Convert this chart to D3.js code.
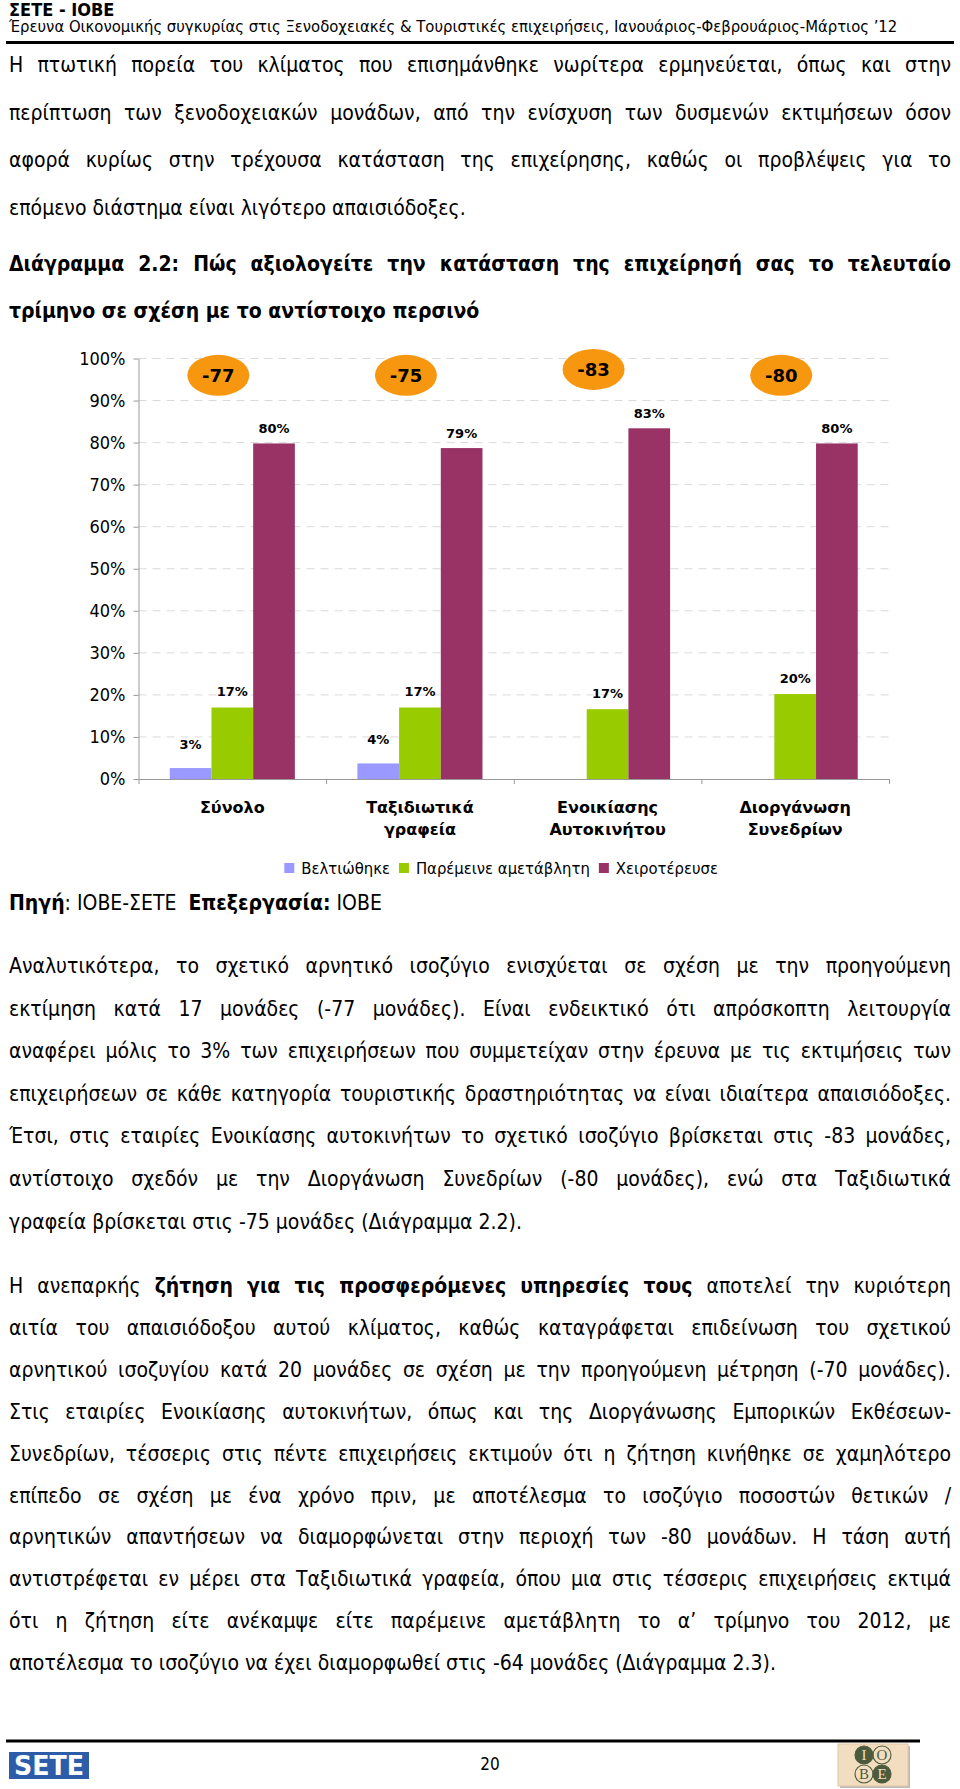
<!DOCTYPE html>
<html>
<head>
<meta charset="utf-8">
<script src="https://cdn.jsdelivr.net/npm/d3@7"></script>
<style>
  body { margin: 0; background: #fff; }
  svg { display: block; }
  text { font-family: "DejaVu Sans Condensed", "DejaVu Sans", sans-serif; fill: #000; }
</style>
</head>
<body>
<svg id="page"></svg>
<script>
// ---- chart data ----
const categories = [["Σύνολο"], ["Ταξιδιωτικά", "γραφεία"], ["Ενοικίασης", "Αυτοκινήτου"], ["Διοργάνωση", "Συνεδρίων"]];
const seriesNames = ["Βελτιώθηκε", "Παρέμεινε αμετάβλητη", "Χειροτέρευσε"];
const improved = [2.6, 3.7, 0, 0];
const unchanged = [17, 17, 16.6, 20.2];
const worse = [79.8, 78.7, 83.4, 79.8];
const balance = [-77, -75, -83, -80];
const yTicks = [0, 10, 20, 30, 40, 50, 60, 70, 80, 90, 100];

// ---- page text (bold runs between *) ----
const headerTitle = "ΣΕΤΕ - ΙΟΒΕ";
const headerSub = "Έρευνα Οικονομικής συγκυρίας στις Ξενοδοχειακές & Τουριστικές επιχειρήσεις, Ιανουάριος-Φεβρουάριος-Μάρτιος ’12";
const para1 = [
  "Η πτωτική πορεία του κλίματος που επισημάνθηκε νωρίτερα ερμηνεύεται, όπως και στην",
  "περίπτωση των ξενοδοχειακών μονάδων, από την ενίσχυση των δυσμενών εκτιμήσεων όσον",
  "αφορά κυρίως στην τρέχουσα κατάσταση της επιχείρησης, καθώς οι προβλέψεις για το",
  "επόμενο διάστημα είναι λιγότερο απαισιόδοξες."
];
const chartTitle = [
  "Διάγραμμα 2.2: Πώς αξιολογείτε την κατάσταση της επιχείρησή σας το τελευταίο",
  "τρίμηνο σε σχέση με το αντίστοιχο περσινό"
];
const sourceLine = "*Πηγή*: ΙΟΒΕ-ΣΕΤΕ  *Επεξεργασία:* ΙΟΒΕ";
const para2 = [
  "Αναλυτικότερα, το σχετικό αρνητικό ισοζύγιο ενισχύεται σε σχέση με την προηγούμενη",
  "εκτίμηση κατά 17 μονάδες (-77 μονάδες). Είναι ενδεικτικό ότι απρόσκοπτη λειτουργία",
  "αναφέρει μόλις το 3% των επιχειρήσεων που συμμετείχαν στην έρευνα με τις εκτιμήσεις των",
  "επιχειρήσεων σε κάθε κατηγορία τουριστικής δραστηριότητας να είναι ιδιαίτερα απαισιόδοξες.",
  "Έτσι, στις εταιρίες Ενοικίασης αυτοκινήτων το σχετικό ισοζύγιο βρίσκεται στις -83 μονάδες,",
  "αντίστοιχο σχεδόν με την Διοργάνωση Συνεδρίων (-80 μονάδες), ενώ στα Ταξιδιωτικά",
  "γραφεία βρίσκεται στις -75 μονάδες (Διάγραμμα 2.2)."
];
const para3 = [
  "Η ανεπαρκής *ζήτηση για τις προσφερόμενες υπηρεσίες τους* αποτελεί την κυριότερη",
  "αιτία του απαισιόδοξου αυτού κλίματος, καθώς καταγράφεται επιδείνωση του σχετικού",
  "αρνητικού ισοζυγίου κατά 20 μονάδες σε σχέση με την προηγούμενη μέτρηση (-70 μονάδες).",
  "Στις εταιρίες Ενοικίασης αυτοκινήτων, όπως και της Διοργάνωσης Εμπορικών Εκθέσεων-",
  "Συνεδρίων, τέσσερις στις πέντε επιχειρήσεις εκτιμούν ότι η ζήτηση κινήθηκε σε χαμηλότερο",
  "επίπεδο σε σχέση με ένα χρόνο πριν, με αποτέλεσμα το ισοζύγιο ποσοστών θετικών /",
  "αρνητικών απαντήσεων να διαμορφώνεται στην περιοχή των -80 μονάδων. Η τάση αυτή",
  "αντιστρέφεται εν μέρει στα Ταξιδιωτικά γραφεία, όπου μια στις τέσσερις επιχειρήσεις εκτιμά",
  "ότι η ζήτηση είτε ανέκαμψε είτε παρέμεινε αμετάβλητη το α’ τρίμηνο του 2012, με",
  "αποτέλεσμα το ισοζύγιο να έχει διαμορφωθεί στις -64 μονάδες (Διάγραμμα 2.3)."
];
const pageNumber = "20";

const W = 960, H = 1789;
const colors = ["#9999FF", "#99CC00", "#993366"];
const textLeft = 9, textWidth = 942;

const svg = d3.select("#page").attr("width", W).attr("height", H);

// split a line into words, each word a list of {t, b} runs
function parseWords(line, startBold) {
  const words = [];
  let bold = startBold, cur = [], buf = "";
  const flush = () => { if (buf) { cur.push({ t: buf, b: bold }); buf = ""; } };
  for (const ch of line) {
    if (ch === "*") { flush(); bold = !bold; }
    else if (ch === " ") { flush(); if (cur.length) { words.push(cur); cur = []; } }
    else buf += ch;
  }
  flush();
  if (cur.length) words.push(cur);
  return words;
}

function addRuns(t, line, startBold) {
  let bold = startBold;
  line.split("*").forEach((seg, k) => {
    if (k > 0) bold = !bold;
    if (seg) t.append("tspan").attr("font-weight", bold ? "bold" : "normal").text(seg);
  });
}

function drawBlock(lines, opt) {
  const g = svg.append("g").style("font-size", opt.size + "px");
  lines.forEach((line, i) => {
    const y = opt.y + i * opt.step;
    const justify = opt.justify && i < lines.length - 1;
    if (!justify) {
      const t = g.append("text").attr("x", opt.x).attr("y", y).style("white-space", "pre");
      addRuns(t, line, opt.bold);
      return;
    }
    const words = parseWords(line, opt.bold);
    const els = words.map(w => {
      const t = g.append("text").attr("y", y);
      w.forEach(r => t.append("tspan").attr("font-weight", r.b ? "bold" : "normal").text(r.t));
      return t;
    });
    const widths = els.map(t => t.node().getComputedTextLength());
    const gap = (opt.width - d3.sum(widths)) / (els.length - 1);
    let cx = opt.x;
    els.forEach((t, k) => { t.attr("x", cx); cx += widths[k] + gap; });
  });
}

// fit body size so the fullest line of the page fills the column
const probe = svg.append("text").style("font-size", "20px").style("white-space", "pre").text(para2[3]);
const bodySize = Math.min(21, 20 * textWidth / probe.node().getComputedTextLength());
probe.remove();

// ---- header ----
svg.append("text").attr("x", textLeft).attr("y", 16).attr("font-weight", "bold")
  .style("font-size", "18px").text(headerTitle);
svg.append("text").attr("x", textLeft).attr("y", 32).style("font-size", "16.5px").text(headerSub);
svg.append("line").attr("x1", 6).attr("x2", 954).attr("y1", 42.5).attr("y2", 42.5)
  .attr("stroke", "#000").attr("stroke-width", 3);

drawBlock(para1, { x: textLeft, width: textWidth, y: 72, step: 47.5, size: bodySize, justify: true, bold: false });
drawBlock(chartTitle, { x: textLeft, width: textWidth, y: 271, step: 47, size: bodySize, justify: true, bold: true });

// ---- chart ----
const plot = { left: 138.5, right: 889, top: 358.5, bottom: 779 };
const x0 = d3.scaleBand().domain(d3.range(categories.length)).range([plot.left, plot.right]);
const x1 = d3.scaleBand().domain(d3.range(3)).range([0, x0.bandwidth()]).paddingOuter(0.75);
const y = d3.scaleLinear().domain([0, 100]).range([plot.bottom, plot.top]);
const xEdge = d3.scaleLinear().domain([0, categories.length]).range([plot.left, plot.right]);

const chart = svg.append("g");

chart.append("g").selectAll("line")
  .data(yTicks.filter(d => d > 0))
  .join("line")
  .attr("x1", plot.left).attr("x2", plot.right)
  .attr("y1", d => y(d)).attr("y2", d => y(d))
  .attr("stroke", "#DADADA").attr("stroke-dasharray", "8,6");

const yAxis = chart.append("g")
  .attr("transform", `translate(${plot.left},0)`)
  .call(d3.axisLeft(y).tickValues(yTicks).tickFormat(d => d + "%").tickSize(5).tickSizeOuter(0).tickPadding(8));
yAxis.selectAll("path, line").attr("stroke", "#999");
yAxis.selectAll("text").style("font-family", '"DejaVu Sans Condensed", sans-serif')
  .style("font-size", "18px").attr("fill", "#000");

const xAxis = chart.append("g")
  .attr("transform", `translate(0,${plot.bottom})`)
  .call(d3.axisBottom(xEdge).tickValues(d3.range(categories.length + 1)).tickFormat("").tickSize(5).tickSizeOuter(0));
xAxis.selectAll("path, line").attr("stroke", "#999");

const series = [improved, unchanged, worse];
const labelOffset = [19, 11.5, 10];

series.forEach((vals, s) => {
  const g = chart.append("g");
  g.selectAll("rect")
    .data(vals)
    .join("rect")
    .attr("x", (d, i) => x0(i) + x1(s))
    .attr("y", d => y(d))
    .attr("width", x1.bandwidth())
    .attr("height", d => y(0) - y(d))
    .attr("fill", colors[s]);
  g.selectAll("text")
    .data(vals.map((v, i) => ({ v, i })).filter(d => d.v > 0))
    .join("text")
    .attr("x", d => x0(d.i) + x1(s) + x1.bandwidth() / 2)
    .attr("y", d => y(d.v) - labelOffset[s])
    .attr("text-anchor", "middle")
    .style("font-family", '"DejaVu Sans", sans-serif')
    .style("font-size", "13px").attr("font-weight", "bold")
    .text(d => Math.round(d.v) + "%");
});

// balance bubbles, kept clear of the tallest bar's label
const bubbles = chart.append("g").selectAll("g")
  .data(balance)
  .join("g")
  .attr("transform", (d, i) => `translate(${x0(i) + x0.bandwidth() / 2 - 14},${y(Math.max(96, worse[i] + 14))})`);
bubbles.append("ellipse").attr("rx", 31).attr("ry", 20.5).attr("fill", "#F7960F");
bubbles.append("text")
  .attr("text-anchor", "middle").attr("dy", "0.36em")
  .style("font-family", '"DejaVu Sans", sans-serif')
  .style("font-size", "18px").attr("font-weight", "bold")
  .text(d => d);

// category labels
const cats = chart.append("g").selectAll("text")
  .data(categories)
  .join("text")
  .attr("text-anchor", "middle")
  .style("font-family", '"DejaVu Sans", sans-serif')
  .style("font-size", "16px").attr("font-weight", "bold");
cats.selectAll("tspan")
  .data((d, i) => d.map(t => ({ t, i })))
  .join("tspan")
  .attr("x", d => x0(d.i) + x0.bandwidth() / 2)
  .attr("y", (d, k) => 812.5 + k * 22.5)
  .text(d => d.t);

// legend
const legend = chart.append("g").attr("transform", "translate(284.3,868)");
let lx = 0;
seriesNames.forEach((name, s) => {
  legend.append("rect").attr("x", lx).attr("y", -5).attr("width", 10).attr("height", 10).attr("fill", colors[s]);
  const t = legend.append("text").attr("x", lx + 17).attr("dy", "0.36em").style("font-size", "16.5px").text(name);
  lx += 17 + t.node().getComputedTextLength() + 9;
});

drawBlock([sourceLine], { x: textLeft, width: textWidth, y: 910, step: 0, size: bodySize, justify: false, bold: false });
drawBlock(para2, { x: textLeft, width: textWidth, y: 973, step: 42.6, size: bodySize, justify: true, bold: false });
drawBlock(para3, { x: textLeft, width: textWidth, y: 1293, step: 41.9, size: bodySize, justify: true, bold: false });

// ---- footer ----
svg.append("line").attr("x1", 6).attr("x2", 920).attr("y1", 1741).attr("y2", 1741)
  .attr("stroke", "#000").attr("stroke-width", 3);
svg.append("text").attr("x", 490).attr("y", 1770).attr("text-anchor", "middle")
  .style("font-size", "17px").text(pageNumber);

const sete = svg.append("g").attr("transform", "translate(9,1752)");
sete.append("rect").attr("width", 80).attr("height", 27).attr("fill", "#2D5DA8");
sete.append("text").attr("x", 40).attr("y", 23).attr("text-anchor", "middle")
  .attr("textLength", 70).attr("lengthAdjust", "spacingAndGlyphs")
  .attr("font-weight", "bold").style("font-size", "27px").style("fill", "#fff").text("SETE");

const iobe = svg.append("g").attr("transform", "translate(838,1744)");
iobe.append("rect").attr("x", 2).attr("y", 2).attr("width", 70).attr("height", 42).attr("fill", "#bbb");
iobe.append("rect").attr("width", 70).attr("height", 42).attr("fill", "#F3DDC1").attr("stroke", "#E2C8A6");
const iobeLetters = [["I", true], ["O", false], ["B", false], ["E", true]];
iobe.selectAll("g.c")
  .data(iobeLetters)
  .join("g")
  .attr("transform", (d, i) => `translate(${26 + (i % 2) * 18},${11 + Math.floor(i / 2) * 19})`)
  .each(function (d) {
    const c = d3.select(this);
    c.append("circle").attr("r", 9).attr("fill", d[1] ? "#4B5B3B" : "none").attr("stroke", "#4B5B3B").attr("stroke-width", 1.1);
    c.append("text").attr("text-anchor", "middle").attr("dy", "0.36em")
      .style("font-family", '"Liberation Serif", serif').style("font-size", "15px")
      .style("fill", d[1] ? "#F3DDC1" : "#4B5B3B").text(d[0]);
  });
</script>
</body>
</html>
